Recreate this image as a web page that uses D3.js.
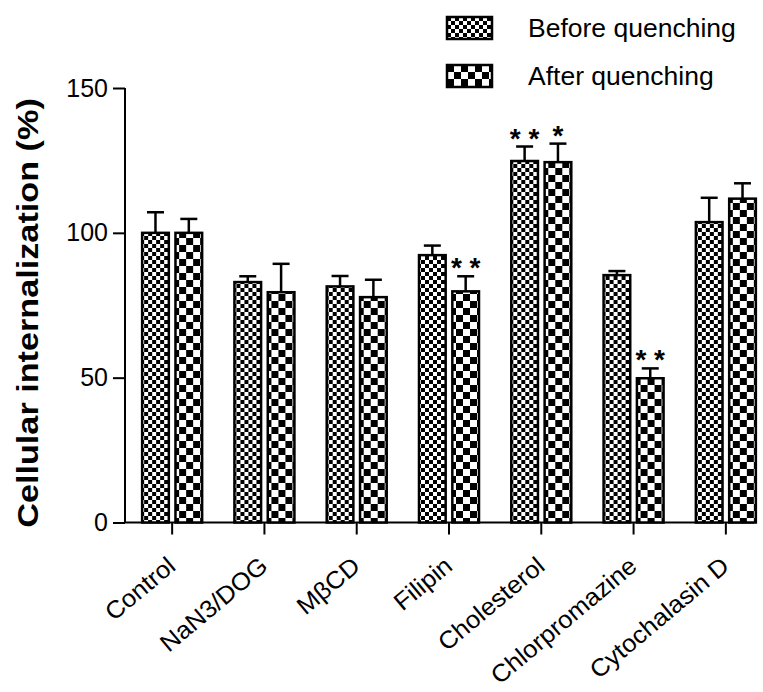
<!DOCTYPE html>
<html>
<head>
<meta charset="utf-8">
<script src="https://cdn.jsdelivr.net/npm/d3@7"></script>
<style>
  html, body { margin: 0; padding: 0; background: #fff; }
  svg { display: block; font-family: "Liberation Sans", Arial, Helvetica, sans-serif; }
</style>
</head>
<body>
<svg id="chart" width="763" height="692"></svg>
<script>
// ---- data ----
const categories = ["Control", "NaN3/DOG", "M\u03B2CD", "Filipin", "Cholesterol", "Chlorpromazine", "Cytochalasin D"];
const seriesNames = ["Before quenching", "After quenching"];
const beforeValues = [100, 83, 81.5, 92.3, 124.8, 85.4, 103.7];
const beforeErrors = [7.1, 2.0, 3.6, 3.3, 5.0, 1.4, 8.4];
const afterValues = [100, 79.5, 77.8, 79.8, 124.4, 49.8, 111.8];
const afterErrors = [4.8, 9.8, 6.0, 5.2, 6.4, 3.4, 5.3];
const beforeStars = ["", "", "", "", "* *", "", ""];
const afterStars = ["", "", "", "* *", "*", "* *", ""];
const yTicks = [0, 50, 100, 150];

const svg = d3.select("#chart");
const defs = svg.append("defs");

function checker(id, s) {
  const p = defs.append("pattern").attr("id", id)
    .attr("patternUnits", "userSpaceOnUse")
    .attr("width", 2 * s).attr("height", 2 * s);
  p.append("rect").attr("width", 2 * s).attr("height", 2 * s).attr("fill", "#fff");
  p.append("rect").attr("x", 0).attr("y", 0).attr("width", s).attr("height", s).attr("fill", "#000");
  p.append("rect").attr("x", s).attr("y", s).attr("width", s).attr("height", s).attr("fill", "#000");
}
checker("patBefore", 4);
checker("patAfter", 7);
const fills = ["url(#patBefore)", "url(#patAfter)"];

const y = d3.scaleLinear().domain([0, 150]).range([522.5, 88]);
const x0 = d3.scaleBand().domain(categories).range([126, 772]).padding(0);
const x1 = d3.scaleBand().domain(seriesNames).range([-30, 30]).paddingInner(0.2).paddingOuter(0);

const data = categories.map((c, i) => ({
  cat: c,
  vals: [
    { s: seriesNames[0], v: beforeValues[i], e: beforeErrors[i], star: beforeStars[i], k: 0 },
    { s: seriesNames[1], v: afterValues[i], e: afterErrors[i], star: afterStars[i], k: 1 }
  ]
}));

// y axis
const yAxis = svg.append("g").attr("transform", "translate(125,0)")
  .call(d3.axisLeft(y).tickValues(yTicks).tickSize(12).tickPadding(5));
yAxis.select(".domain").attr("d", `M0,${y(150)}V${y(0)}`);
yAxis.selectAll("line, path").attr("stroke", "#000").attr("stroke-width", 2);
yAxis.selectAll("text").attr("font-size", 25).attr("fill", "#000").attr("font-family", "Liberation Sans, Arial, sans-serif");

// x axis
const xAxis = svg.append("g").attr("transform", `translate(0,${y(0)})`)
  .call(d3.axisBottom(x0).tickSize(12).tickFormat(""));
xAxis.select(".domain").attr("d", "M125,0H754");
xAxis.selectAll("line, path").attr("stroke", "#000").attr("stroke-width", 2);

// x labels
svg.append("g").selectAll("text").data(categories).join("text")
  .attr("transform", d => `translate(${x0(d) + x0.bandwidth() / 2 + 5},${y(0) + 46}) rotate(-40) scale(1.05,1)`)
  .attr("text-anchor", "end")
  .attr("font-size", 24.5)
  .attr("fill", "#000")
  .text(d => d);

// bars
const groups = svg.append("g").selectAll("g").data(data).join("g")
  .attr("transform", d => `translate(${x0(d.cat) + x0.bandwidth() / 2},0)`);

groups.selectAll("line.err").data(d => d.vals).join("line").attr("class", "err")
  .attr("x1", d => x1(d.s) + x1.bandwidth() / 2).attr("x2", d => x1(d.s) + x1.bandwidth() / 2)
  .attr("y1", d => y(d.v)).attr("y2", d => y(d.v + d.e))
  .attr("stroke", "#000").attr("stroke-width", 2.5);
groups.selectAll("line.cap").data(d => d.vals).join("line").attr("class", "cap")
  .attr("x1", d => x1(d.s) + x1.bandwidth() / 2 - 8.5).attr("x2", d => x1(d.s) + x1.bandwidth() / 2 + 8.5)
  .attr("y1", d => y(d.v + d.e)).attr("y2", d => y(d.v + d.e))
  .attr("stroke", "#000").attr("stroke-width", 2.5);

groups.selectAll("rect.bar").data(d => d.vals).join("rect").attr("class", "bar")
  .attr("x", d => x1(d.s)).attr("width", x1.bandwidth())
  .attr("y", d => y(d.v)).attr("height", d => y(0) - y(d.v))
  .attr("fill", d => fills[d.k])
  .attr("stroke", "#000").attr("stroke-width", 2.5);

groups.selectAll("text.star").data(d => d.vals.filter(v => v.star)).join("text").attr("class", "star")
  .attr("x", d => x1(d.s) + x1.bandwidth() / 2)
  .attr("y", d => y(d.v + d.e) + 1)
  .attr("text-anchor", "middle")
  .attr("font-size", 28)
  .attr("font-weight", "bold")
  .attr("fill", "#000")
  .style("white-space", "pre")
  .attr("xml:space", "preserve")
  .text(d => d.star);

// y title
svg.append("text")
  .attr("transform", "translate(38,313) rotate(-90) scale(1.16,1)")
  .attr("text-anchor", "middle")
  .attr("font-size", 29.5)
  .attr("font-weight", "bold")
  .attr("fill", "#000")
  .text("Cellular internalization (%)");

// legend
const legend = svg.append("g").selectAll("g").data(seriesNames).join("g")
  .attr("transform", (d, i) => `translate(447,${17 + i * 48})`);
legend.append("rect").attr("width", 45).attr("height", 22)
  .attr("fill", (d, i) => fills[i]).attr("stroke", "#000").attr("stroke-width", 2.5);
legend.append("text").attr("x", 81).attr("y", 20)
  .attr("font-size", 26.5).attr("fill", "#000").text(d => d);
</script>
</body>
</html>
